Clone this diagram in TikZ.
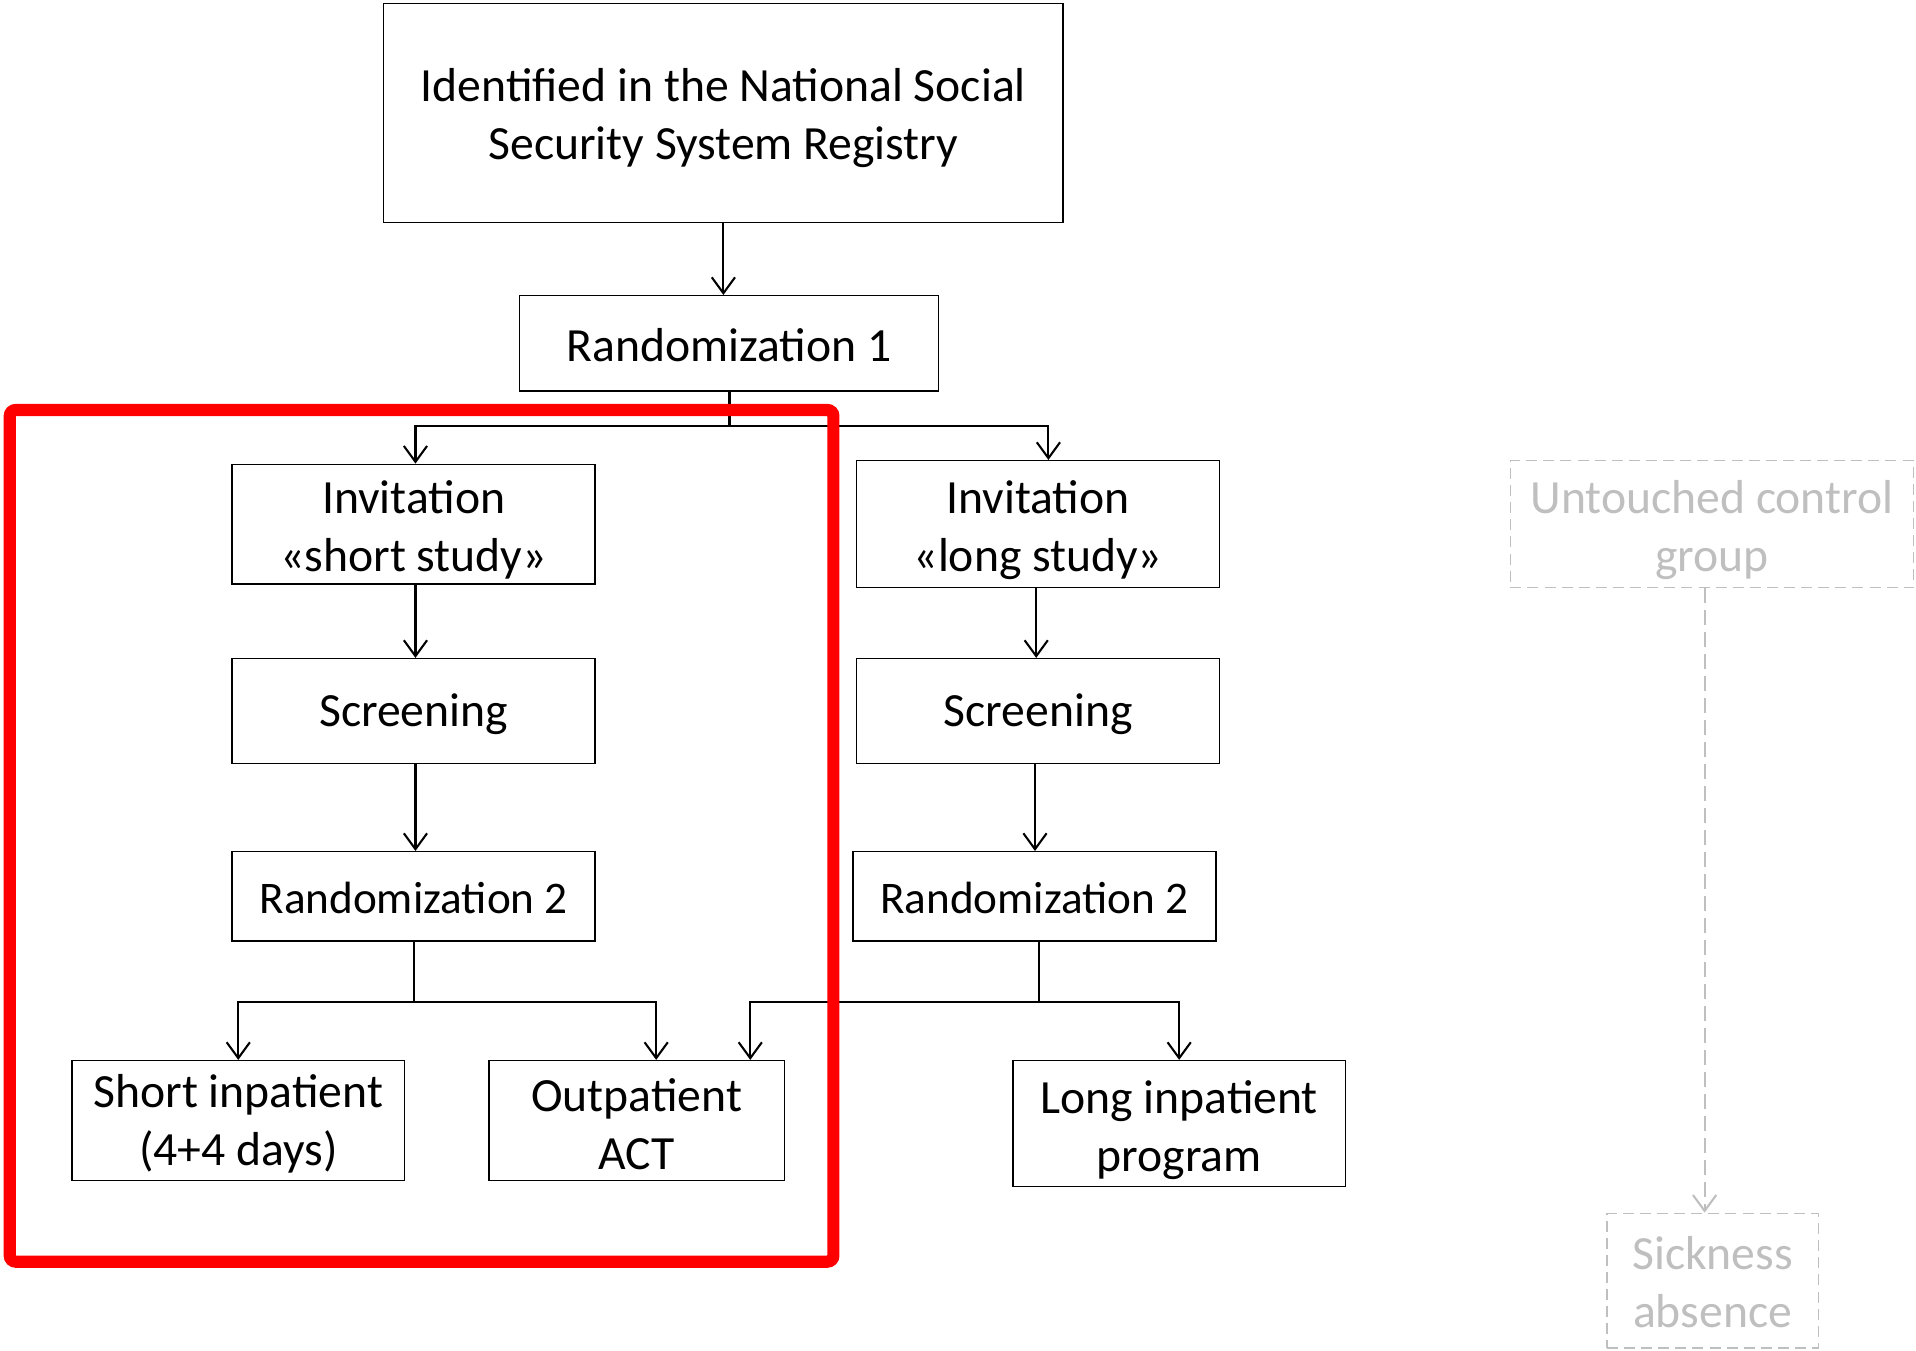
\documentclass[tikz,border=0pt]{standalone}
\usepackage{fontspec}
\setmainfont{Carlito}
\usetikzlibrary{arrows.meta}
\definecolor{ghostgrey}{HTML}{BFBFBF}
\definecolor{hilite}{HTML}{FF0000}
\newcommand\mystrut[1]{\rule{0pt}{#1}}
\begin{document}
\begin{tikzpicture}[x=1pt,y=-1pt,
  box/.style={draw, line width=1.2pt, inner sep=0pt, align=center,
    font=\fontsize{39pt}{47.6pt}\selectfont},
  smallbox/.style={box, font=\fontsize{37pt}{45pt}\selectfont},
  ghost/.style={box, draw=ghostgrey, dash pattern=on 9pt off 5pt, text=ghostgrey},
  conn/.style={line width=1.7pt, -{Straight Barb[length=13pt,width=19pt,line width=1.7pt]}},
  ghostconn/.style={conn, draw=ghostgrey, dash pattern=on 12pt off 6pt},
  plain/.style={line width=1.7pt},
  highlight/.style={draw=hilite, line width=10pt, rounded corners=5pt}]
\useasboundingbox (0,0) rectangle (1568,1105);

\node[box, minimum width=556pt, minimum height=179pt] (top) at (592,92.5)
  {\mystrut{35pt}Identified in the National Social\\Security System Registry};
\node[box, minimum width=343pt, minimum height=78pt] (r1) at (596.5,281) {\mystrut{30pt}Randomization 1};
\node[box, minimum width=297pt, minimum height=98pt] (invS) at (338.5,429) {\mystrut{36pt}Invitation\\«short study»};
\node[box, minimum width=297pt, minimum height=104pt] (invL) at (849.5,429) {\mystrut{36pt}Invitation\\«long study»};
\node[box, minimum width=297pt, minimum height=86pt] (scrS) at (338.5,582) {\mystrut{31pt}Screening};
\node[box, minimum width=297pt, minimum height=86pt] (scrL) at (849.5,582) {\mystrut{31pt}Screening};
\node[smallbox, minimum width=297pt, minimum height=73pt] (r2S) at (338.5,733.5) {\mystrut{29pt}Randomization 2};
\node[smallbox, minimum width=297pt, minimum height=73pt] (r2L) at (846.5,733.5) {\mystrut{29pt}Randomization 2};
\node[box, minimum width=272pt, minimum height=98pt] (shortI) at (195,917) {\mystrut{33pt}Short inpatient\\(4+4 days)};
\node[box, minimum width=242pt, minimum height=98pt] (outp) at (521,917) {\mystrut{33pt}Outpatient\\ACT};
\node[box, minimum width=272pt, minimum height=103pt] (longI) at (965,919.5) {\mystrut{37pt}Long inpatient\\program};
\node[ghost, minimum width=330pt, minimum height=104pt] (untouched) at (1401,429) {\mystrut{36pt}Untouched control\\group};
\node[ghost, minimum width=173pt, minimum height=110pt] (sick) at (1401.5,1048) {\mystrut{29pt}Sickness\\absence};

% connectors
\draw[conn] (top.south) -- (top.south |- r1.north);

\coordinate (j1) at (597,349);
\draw[plain] (r1.south -| j1) -- (j1);
\draw[conn] (j1) -| ([xshift=1.5pt]invS.north);
\draw[conn] (j1) -| ([xshift=8.5pt]invL.north);

\draw[conn] ([xshift=1.5pt]invS.south) -- ([xshift=1.5pt]scrS.north);
\draw[conn] ([xshift=-1.5pt]invL.south) -- ([xshift=-1.5pt]scrL.north);
\draw[conn] ([xshift=1.5pt]scrS.south) -- ([xshift=1.5pt]r2S.north);
\draw[conn] ([xshift=-2.5pt]scrL.south) -- ([xshift=-2.5pt]scrL.south |- r2L.north);

\coordinate (j2) at (339,820);
\draw[plain] (j2 |- r2S.south) -- (j2);
\draw[conn] (j2) -| (shortI.north);
\draw[conn] (j2) -| ([xshift=16pt]outp.north);

\coordinate (j3) at (850,820);
\draw[plain] (j3 |- r2L.south) -- (j3);
\draw[conn] (j3) -| ([xshift=93pt]outp.north);
\draw[conn] (j3) -| (longI.north);

\draw[ghostconn] ([xshift=-6pt]untouched.south) -- ([xshift=-6pt]untouched.south |- sick.north);

% highlight frame
\draw[highlight] (8,335.5) rectangle (682,1032.5);
\end{tikzpicture}
\end{document}
